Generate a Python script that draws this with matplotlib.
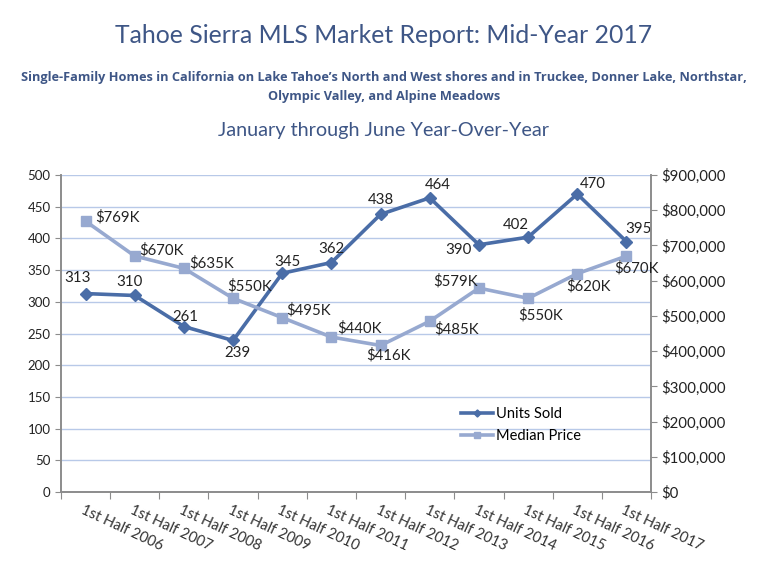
import numpy as np
import matplotlib
matplotlib.use("Agg")
import matplotlib.pyplot as plt
from matplotlib.ticker import FuncFormatter, MultipleLocator

DARK = "#4A6DA7"
LIGHT = "#97A9D0"
TITLE = "#3E5686"
GRID = "#B8C9E8"
SPINE = "#8C8C8C"

years = ["2006", "2007", "2008", "2009", "2010", "2011",
         "2012", "2013", "2014", "2015", "2016", "2017"]
labels = ["1st Half " + y for y in years]
units_sold = [313, 310, 261, 239, 345, 362, 438, 464, 390, 402, 470, 395]
median_k = [769, 670, 635, 550, 495, 440, 416, 485, 579, 550, 620, 670]

# label offsets in points (dx, dy, ha)
unit_offs = [(-6, 11, "center"), (-4, 10, "center"), (1, 7, "center"), (3, -9, "center"),
             (4, 8, "center"), (0, 10, "center"), (0, 10, "center"), (6, 9, "center"),
             (-15, -4, "center"), (-9, 9, "center"), (11, 7, "center"), (9, 9, "center")]
price_offs = [(7, 3, "left"), (3, 4, "left"), (4, 4, "left"), (-4, 9, "left"),
              (3, 5, "left"), (4, 6, "left"), (6, -7, "center"), (3, -6, "left"),
              (-1, 5, "right"), (9, -12, "center"), (8, -9, "center"), (7, -9, "center")]

plt.rcParams["font.family"] = ["Lato", "DejaVu Sans"]

fig = plt.figure(figsize=(7.68, 5.84), dpi=100)
ax = fig.add_axes([0.0794, 0.1575, 0.7683, 0.5428])
ax2 = ax.twinx()

x = np.arange(len(years))
ax.set_xlim(-0.5, len(years) - 0.5)
ax.set_ylim(0, 500)
ax2.set_ylim(0, 900000)

ax.yaxis.set_major_locator(MultipleLocator(50))
ax2.yaxis.set_major_locator(MultipleLocator(100000))
ax.grid(axis="y", color=GRID, lw=1.0)
ax.set_axisbelow(True)

ax.plot(x, units_sold, "-", color=DARK, lw=2.6, marker="D", ms=6, zorder=3, label="Units Sold")
prices = [p * 1000 for p in median_k]
ax2.plot(x, prices, "-", color=LIGHT, lw=2.6, marker="s", ms=7, zorder=3, label="Median Price")

for xi, v, (dx, dy, ha) in zip(x, units_sold, unit_offs):
    ax.annotate(str(v), (xi, v), xytext=(dx, dy), textcoords="offset points",
                ha=ha, va="center", fontsize=10.8, color="#222222")
for xi, v, (dx, dy, ha) in zip(x, prices, price_offs):
    ax2.annotate(f"${v // 1000}K", (xi, v), xytext=(dx, dy), textcoords="offset points",
                 ha=ha, va="center", fontsize=10.8, color="#222222")

ax.set_xticks(np.arange(-0.5, len(years), 1.0))
ax.set_xticklabels([])
ax.tick_params(axis="x", length=5, color=SPINE)
for xi, lab in zip(x, labels):
    ax.annotate(lab, (xi, 0), xytext=(-1, -8), textcoords="offset points",
                rotation=-25, rotation_mode="anchor", ha="left", va="top",
                fontsize=10.5, color="#333333")

ax.tick_params(axis="y", length=4, color=SPINE, labelsize=9.5, labelcolor="#222222")
ax2.tick_params(axis="y", length=4, color=SPINE, labelsize=10.8, labelcolor="#222222")
ax2.yaxis.set_major_formatter(FuncFormatter(lambda v, p: f"${v:,.0f}"))

for a in (ax, ax2):
    a.spines["top"].set_visible(False)
    for s in ("left", "right", "bottom"):
        a.spines[s].set_color(SPINE)
        a.spines[s].set_linewidth(1.2)

h1, l1 = ax.get_legend_handles_labels()
h2, l2 = ax2.get_legend_handles_labels()
leg = ax2.legend(h1 + h2, l1 + l2, loc="upper left", bbox_to_anchor=(0.655, 0.31),
                 frameon=False, fontsize=10.5, handlelength=2.2, handletextpad=0.2,
                 labelspacing=0.55, markerscale=0.6)

fig.text(0.5, 0.94, "Tahoe Sierra MLS Market Report: Mid-Year 2017", ha="center",
         va="center", fontsize=17.8, color=TITLE)
fig.text(0.5, 0.868, "Single-Family Homes in California on Lake Tahoe\u2019s North and West shores and in Truckee, Donner Lake, Northstar,",
         ha="center", va="center", fontsize=9.2, fontweight="bold", color=TITLE,
         family=["Open Sans", "DejaVu Sans"])
fig.text(0.5, 0.834, "Olympic Valley, and Alpine Meadows", ha="center", va="center",
         fontsize=9.2, fontweight="bold", color=TITLE, family=["Open Sans", "DejaVu Sans"])
fig.text(0.5, 0.777, "January through June Year-Over-Year", ha="center", va="center",
         fontsize=14.3, color=TITLE)

fig.savefig("out.png", dpi=100)
